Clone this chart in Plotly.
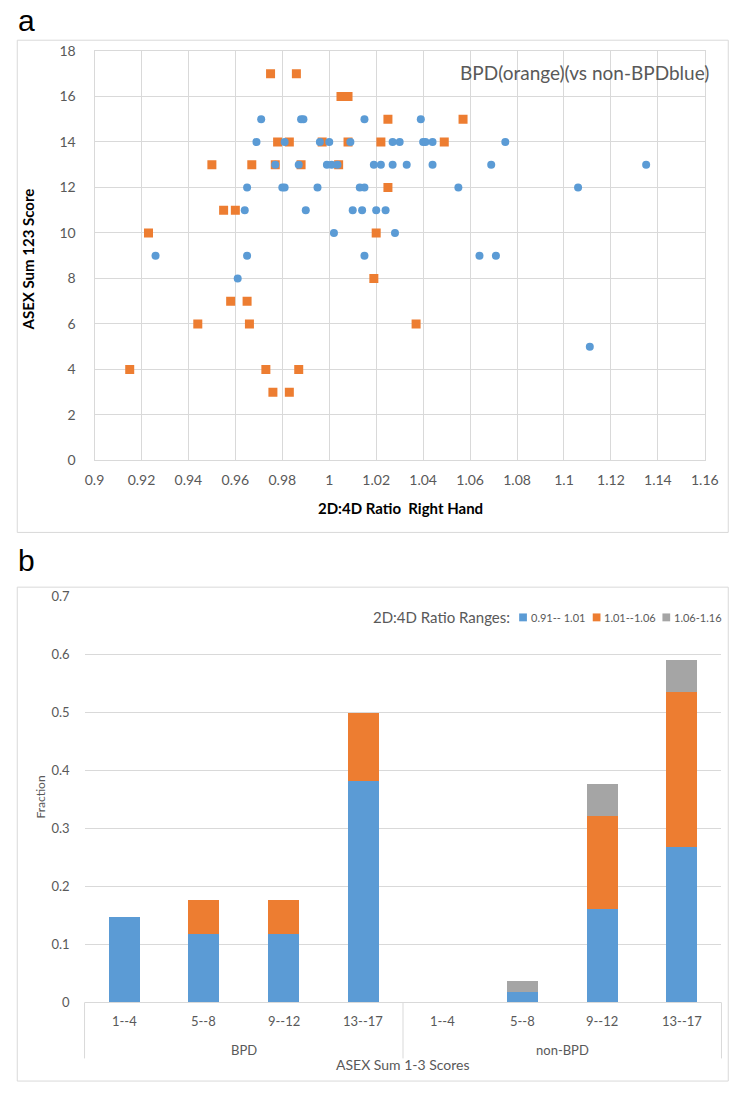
import plotly.graph_objects as go

# ---------------- Panel a data (scatter) ----------------
bpd_x = [0.975, 0.986, 1.005, 1.008, 1.025, 1.057,
         0.978, 0.983, 0.997, 1.008, 1.022, 1.049,
         0.950, 0.967, 0.977, 0.988, 1.004,
         1.025, 0.955, 0.960, 0.923, 1.020,
         1.019, 0.958, 0.965, 0.944, 0.966, 1.037,
         0.915, 0.973, 0.987, 0.976, 0.983]
bpd_y = [17, 17, 16, 16, 15, 15,
         14, 14, 14, 14, 14, 14,
         13, 13, 13, 13, 13,
         12, 11, 11, 10, 10,
         8, 7, 7, 6, 6, 6,
         4, 4, 4, 3, 3]

non_x = [0.971, 0.988, 0.989, 1.015, 1.039,
         0.969, 0.981, 0.996, 1.000, 1.009, 1.027, 1.030, 1.040, 1.041, 1.044, 1.075,
         0.977, 0.987, 0.999, 1.001, 1.0035, 1.019, 1.022, 1.027, 1.033, 1.044, 1.069, 1.135,
         0.965, 0.980, 0.981, 0.995, 1.013, 1.015, 1.055, 1.106,
         0.964, 0.990, 1.010, 1.014, 1.020, 1.024,
         1.002, 1.028,
         0.926, 0.965, 1.015, 1.064, 1.071,
         0.961,
         1.111]
non_y = [15, 15, 15, 15, 15,
         14, 14, 14, 14, 14, 14, 14, 14, 14, 14, 14,
         13, 13, 13, 13, 13, 13, 13, 13, 13, 13, 13, 13,
         12, 12, 12, 12, 12, 12, 12, 12,
         11, 11, 11, 11, 11, 11,
         10, 10,
         9, 9, 9, 9, 9,
         8,
         5]

# ---------------- Panel b data (stacked bars) ----------------
group_names = ["BPD", "non-BPD"]
bin_names = ["1--4", "5--8", "9--12", "13--17"]
groups = [g for g in group_names for _ in bin_names]
score_bins = bin_names * len(group_names)
range_low = [0.147, 0.118, 0.118, 0.382, 0.0, 0.018, 0.161, 0.268]
range_mid = [0.0, 0.059, 0.059, 0.118, 0.0, 0.0, 0.161, 0.268]
range_high = [0.0, 0.0, 0.0, 0.0, 0.0, 0.018, 0.054, 0.054]
range_names = ["0.91-- 1.01", "1.01--1.06", "1.06-1.16"]
legend_title = "2D:4D Ratio Ranges:"

BLUE = "#5B9BD5"
ORANGE = "#ED7D31"
GRAY = "#A5A5A5"
GRID = "#D9D9D9"
TXT = "#595959"
FONT = "Lato, Open Sans, sans-serif"
range_colors = [BLUE, ORANGE, GRAY]

W, H = 750, 1093


def px(x):
    return x / W


def py(y):
    return 1 - y / H


# bar plot area (pixels)
BX0, BX1 = 77, 735
BY0, BYTOP = 1009, 597
n_cat = len(score_bins)
cat_w = (BX1 - BX0) / n_cat

fig = go.Figure()

fig.add_trace(go.Scatter(
    x=bpd_x, y=bpd_y, mode="markers", name="BPD",
    marker=dict(symbol="square", size=9, color=ORANGE),
    xaxis="x", yaxis="y", showlegend=False))
fig.add_trace(go.Scatter(
    x=non_x, y=non_y, mode="markers", name="non-BPD",
    marker=dict(symbol="circle", size=8, color=BLUE),
    xaxis="x", yaxis="y", showlegend=False))

xcat = [groups, score_bins]
for vals, name, col in zip([range_low, range_mid, range_high], range_names, range_colors):
    fig.add_trace(go.Bar(x=xcat, y=vals, name=name, marker=dict(color=col, line=dict(width=0)),
                         xaxis="x2", yaxis="y2", showlegend=False))

annotations = [
    dict(text="a", xref="paper", yref="paper", x=px(6), y=py(12), xanchor="left", yanchor="middle",
         showarrow=False, font=dict(family="Liberation Sans, Arial", size=30, color="black")),
    dict(text="b", xref="paper", yref="paper", x=px(6), y=py(560), xanchor="left", yanchor="middle",
         showarrow=False, font=dict(family="Liberation Sans, Arial", size=30, color="black")),
    dict(text="BPD(orange)(vs non-BPDblue)", xref="paper", yref="paper", x=px(724), y=py(64),
         xanchor="right", yanchor="middle", showarrow=False, font=dict(size=19, color=TXT)),
    dict(text="<b>ASEX Sum 123 Score</b>", xref="paper", yref="paper", x=px(19), y=py(254),
         xanchor="center", yanchor="middle", textangle=-90, showarrow=False,
         font=dict(size=15, color="black")),
    dict(text="<b>2D:4D Ratio  Right Hand</b>", xref="paper", yref="paper", x=px(403), y=py(507),
         xanchor="center", yanchor="middle", showarrow=False, font=dict(size=15, color="black")),
    dict(text="Fraction", xref="paper", yref="paper", x=px(32), y=py(800),
         xanchor="center", yanchor="middle", textangle=-90, showarrow=False,
         font=dict(size=12, color=TXT)),
    dict(text="ASEX Sum 1-3 Scores", xref="paper", yref="paper", x=px(406), y=py(1072),
         xanchor="center", yanchor="middle", showarrow=False, font=dict(size=14, color=TXT)),
    dict(text=legend_title, xref="paper", yref="paper", x=px(519), y=py(618),
         xanchor="right", yanchor="middle", showarrow=False, font=dict(size=15, color=TXT)),
]
# category tick labels and group labels (placed under the bar axis)
for i, lab in enumerate(score_bins):
    annotations.append(dict(text=lab, xref="paper", yref="paper",
                            x=px(BX0 + (i + 0.5) * cat_w), y=py(1028),
                            xanchor="center", yanchor="middle", showarrow=False,
                            font=dict(size=13, color=TXT)))
per_group = len(bin_names)
for j, g in enumerate(group_names):
    annotations.append(dict(text=g, xref="paper", yref="paper",
                            x=px(BX0 + (j + 0.5) * per_group * cat_w), y=py(1057),
                            xanchor="center", yanchor="middle", showarrow=False,
                            font=dict(size=13, color=TXT)))

shapes = [
    dict(type="rect", xref="paper", yref="paper", x0=px(7.5), x1=px(742), y0=py(531.7), y1=py(31.7),
         line=dict(color=GRID, width=1), fillcolor="rgba(0,0,0,0)", layer="below"),
    dict(type="rect", xref="paper", yref="paper", x0=px(7.5), x1=px(742), y0=py(1089), y1=py(587.3),
         line=dict(color=GRID, width=1), fillcolor="rgba(0,0,0,0)", layer="below"),
]
for k in range(len(group_names) + 1):
    xd = BX0 + k * per_group * cat_w
    shapes.append(dict(type="line", xref="paper", yref="paper", x0=px(xd), x1=px(xd),
                       y0=py(BY0), y1=py(1066), line=dict(color=GRID, width=1)))

# legend entries (key squares + labels)
legend_key_x = [530, 606, 678]
for kx, name, col in zip(legend_key_x, range_names, range_colors):
    shapes.append(dict(type="rect", xref="paper", yref="paper",
                       x0=px(kx - 4), x1=px(kx + 4), y0=py(622), y1=py(614),
                       line=dict(width=0), fillcolor=col))
    annotations.append(dict(text=name, xref="paper", yref="paper", x=px(kx + 6), y=py(618),
                            xanchor="left", yanchor="middle", showarrow=False,
                            font=dict(size=11, color=TXT)))

fig.update_layout(
    width=W, height=H,
    margin=dict(l=0, r=0, t=0, b=0),
    paper_bgcolor="white", plot_bgcolor="white",
    font=dict(family=FONT, color=TXT, size=13),
    barmode="stack", bargap=0.61,
    showlegend=False,
    xaxis=dict(domain=[px(87.3), px(717.8)], range=[0.9, 1.16], dtick=0.02, tick0=0.9,
               showgrid=True, gridcolor=GRID, gridwidth=1, zeroline=False,
               showline=True, linecolor=GRID, mirror=True,
               ticks="", ticklabelstandoff=7, tickfont=dict(size=14, color=TXT),
               anchor="y"),
    yaxis=dict(domain=[py(458.5), py(42.7)], range=[0, 18], dtick=2,
               showgrid=True, gridcolor=GRID, gridwidth=1, zeroline=False,
               showline=True, linecolor=GRID, mirror=True,
               ticks="", ticklabelstandoff=15, tickfont=dict(size=14, color=TXT),
               anchor="x"),
    xaxis2=dict(domain=[px(BX0), px(BX1)], type="multicategory",
                showgrid=False, zeroline=False,
                showline=True, linecolor=GRID, linewidth=1,
                showdividers=False, showticklabels=False,
                ticks="", anchor="y2"),
    yaxis2=dict(domain=[py(BY0), py(BYTOP)], range=[0, 0.7], dtick=0.1,
                showgrid=True, gridcolor=GRID, gridwidth=1, zeroline=False,
                showline=False, ticks="", ticklabelstandoff=14,
                tickfont=dict(size=13, color=TXT), anchor="x2"),
    shapes=shapes,
    annotations=annotations,
)

fig.write_html("out.html")
